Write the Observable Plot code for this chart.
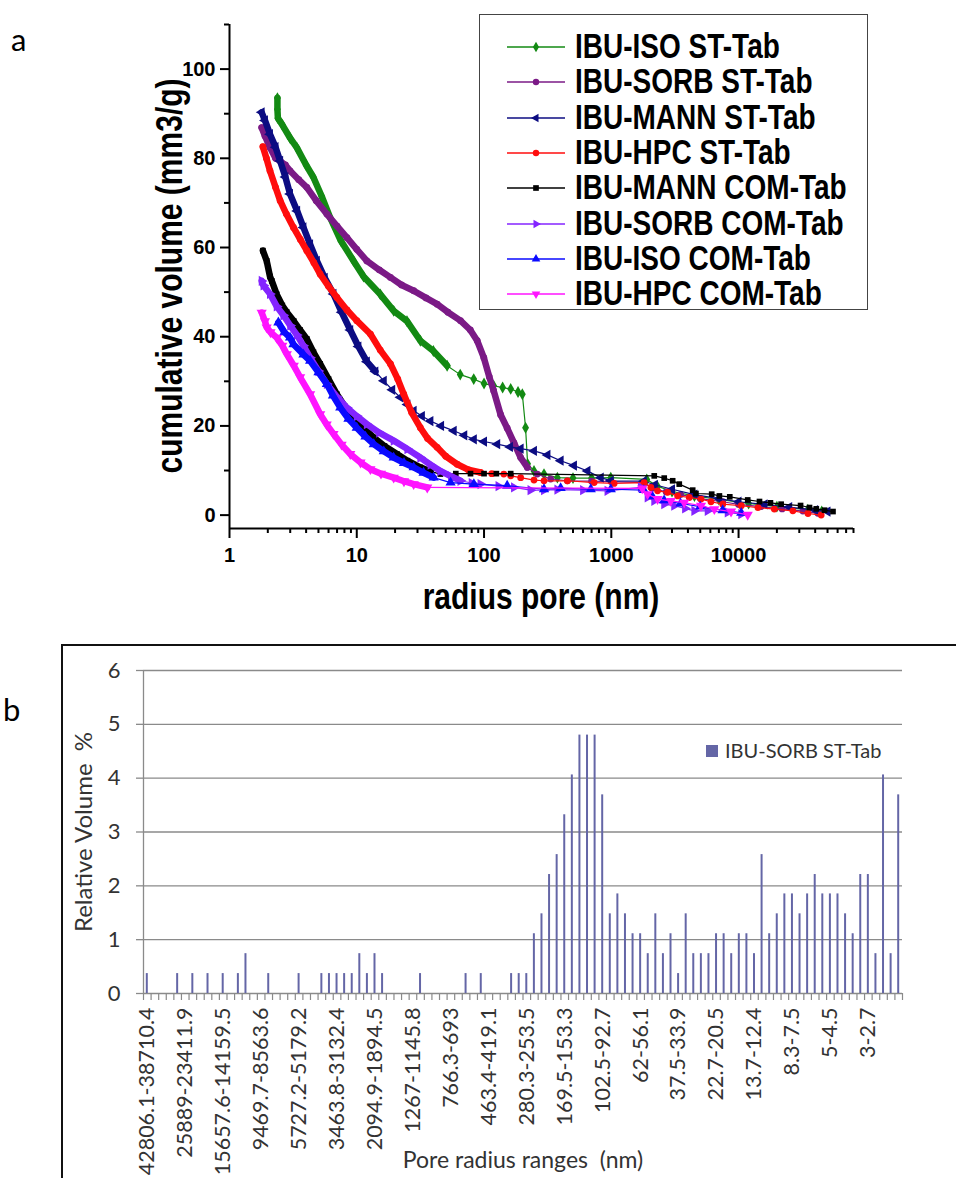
<!DOCTYPE html>
<html>
<head>
<meta charset="utf-8">
<script src="https://cdn.jsdelivr.net/npm/d3@7"></script>
<script src="https://cdn.jsdelivr.net/npm/@observablehq/plot@0.6"></script>
<style>
  body { margin: 0; background: #fff; }
  #wrap { position: relative; width: 956px; height: 1178px; overflow: hidden; background: #fff; }
  #wrap > * { position: absolute; }
  .tall { font-family: "Liberation Sans", Arial, sans-serif; font-weight: bold; white-space: nowrap; color: #000; }
  .calib { font-family: Lato, "Open Sans", sans-serif; }
</style>
</head>
<body>
<div id="wrap"></div>
<script>
// ---------------- (a) cumulative intrusion curves : [radius nm, cumulative volume mm3/g]
const seriesNames = ["IBU-ISO ST-Tab", "IBU-SORB ST-Tab", "IBU-MANN ST-Tab", "IBU-HPC ST-Tab",
                     "IBU-MANN COM-Tab", "IBU-SORB COM-Tab", "IBU-ISO COM-Tab", "IBU-HPC COM-Tab"];
const seriesColors = ["#138a13", "#7b1a86", "#0c0c82", "#ff0d0d", "#000000", "#8424ff", "#0a0aff", "#ff14ff"];

const isoST = [[2.38,93.5],[2.38,91],[2.4,89],[2.6,87.5],[3.0,84.5],[3.38,82.4],[4.0,78.5],[4.57,75.7],[5.3,71.5],
  [6.18,66.7],[7.5,61.5],[9.44,57],[11.3,53.5],[15.3,49.5],[19.5,45.8],[24.8,43.5],[31.6,39.1],[40,36.8],[51.3,33.5],
  [65,31.5],[83,30.5],[100,29.5],[119,29],[140,28.6],[162,28.3],[185,27.6],[200,27.1],[212,19.6],[220,11.5],[247,9.9],
  [296,9.2],[377,8.4],[500,8.3],[700,8.3],[991,8.4],[1900,8.0],[2300,6.5],[3000,5.3],[4500,4.3],[7000,3.5],[12000,2.6],
  [20000,1.9],[35000,1.2],[45000,0.8]];
const sorbST = [[1.79,86.9],[1.9,85],[2.08,82.4],[2.3,80],[2.5,79.4],[2.75,78.5],[2.99,77.2],[3.5,75.2],[4.05,73.5],
  [4.8,70.5],[5.82,67.5],[7,64.8],[8.37,62.2],[10,59.6],[12,57],[15,55],[18.4,53.3],[22.5,51.6],[28,50.3],[35,48.7],
  [42.8,47.3],[52,45.5],[65.3,43.6],[78,41.5],[88.4,39.1],[99.6,35.3],[110,31],[119,27.9],[135,22.5],[152,19.5],
  [172,16.2],[194,12.9],[219,10.7],[262,9.2],[334,8.1],[452,7.7],[700,7.6],[1000,7.5],[1800,7.3],[2100,6.0],[2700,5.2],
  [3500,4.6],[5000,3.7],[7500,3.0],[10000,2.4],[15000,1.9],[22000,1.4],[32000,0.9],[42000,0.4]];
const mannST = [[1.79,90.3],[1.9,88.5],[2.08,85.4],[2.3,82.5],[2.5,79.4],[2.75,75.8],[2.99,72],[3.4,68.2],[3.81,64.5],
  [4.3,60.7],[4.86,57],[5.6,53.2],[6.56,49.6],[7.6,45.5],[8.89,41.5],[10.3,37.8],[12,34.4],[14,32.2],[16.3,30.1],
  [19,28.1],[22,26.4],[25,24.8],[28,23.4],[32.5,22.2],[37.9,21.1],[46,20],[57.8,18.9],[70,17.9],[83.2,17.0],[100,16.5],
  [127,15.9],[160,15.3],[194,14.9],[247,14.4],[315,13.5],[400,12.2],[509,11.1],[650,9.9],[827,8.4],[991,7.7],
  [1800,7.6],[2200,6.8],[3000,5.8],[4500,4.6],[7000,3.7],[10000,3.0],[16000,2.4],[25000,1.8],[40000,1.1],[50000,0.8]];
const hpcST = [[1.83,82.6],[1.95,80],[2.08,77.2],[2.3,73.5],[2.5,70.5],[2.8,67.5],[3.18,64.5],[3.6,61.8],[4.05,59.3],
  [4.6,56.6],[5.16,54],[6,51.3],[6.98,48.8],[8.37,46],[10,43.6],[12.8,40.6],[15.3,37],[18.4,33.9],[21,30.5],[23.4,27.1],
  [27,23],[31.6,19.6],[36,17.2],[42.8,15.2],[50,13.2],[61.5,11.4],[75,10.2],[93.8,9.55],[115,9.3],[143,9.2],[162,8.8],
  [194,8.4],[247,7.85],[296,7.7],[452,7.7],[733,7.3],[1052,7.1],[1811,7.3],[2047,6.2],[2310,5.45],[2770,5.1],[3320,4.3],
  [4100,3.95],[5070,3.6],[6070,3.0],[7510,2.45],[10500,2.1],[14200,1.7],[19100,1.35],[26700,0.96],[35100,0.36],[44600,0]];
const mannCOM = [[1.83,59.3],[1.96,57],[2.08,53.5],[2.15,52.5],[2.35,49.5],[2.6,47],[2.82,45.5],[3.2,43.5],[3.59,41.5],
  [4.05,39.5],[4.57,36.5],[5.16,33.9],[6,30.5],[6.98,27.1],[8,24.5],[9.44,21.9],[11.3,19.5],[13.6,17.4],[16.5,15.5],
  [20.7,13.7],[25,12.2],[31.6,10.7],[38,9.8],[45.4,9.2],[60,9.3],[78.3,9.3],[100,9.3],[125,9.3],[162,9.3],[2175,8.8],
  [2605,8.3],[3035,7.7],[3420,6.95],[4360,5.6],[4625,4.85],[6150,4.7],[7070,4.3],[8530,4.1],[11800,3.4],[14600,3.05],
  [17800,2.75],[21600,2.45],[30700,2.15],[36100,1.7],[40800,1.4],[47400,1.1],[55200,0.8]];
const sorbCOM = [[1.79,52.5],[1.85,51.5],[2.08,49.6],[2.35,46.8],[2.65,44.8],[3.0,42.5],[3.38,40.4],[3.8,38],[4.3,35.3],
  [5,32.3],[5.82,29.4],[7,26.5],[8.37,24.1],[10,22.2],[12,20.4],[15,18.5],[19.5,16.7],[25,14.8],[31.6,12.9],[38,11.3],
  [45.4,9.9],[55,8.7],[65.3,7.7],[80,7.2],[93.8,6.95],[130,6.5],[172,6.2],[232,5.6],[296,5.6],[377,5.7],[600,5.6],
  [934,5.45],[1708,6.2],[1930,3.95],[2175,3.2],[2605,2.45],[3120,2.1],[3800,1.5],[4490,0.96],[5720,0.96],[8220,0.6],[10500,0.2]];
const isoCOM = [[2.42,43.2],[2.7,41],[2.99,39.8],[3.18,38.3],[3.81,36],[4.3,34.6],[5,32],[5.82,29.4],[6.5,26.8],
  [7.42,24.1],[8.6,21.6],[10,19.6],[11.7,17.6],[13.6,15.9],[16.3,14.3],[19.5,12.9],[23.5,11.7],[28,10.7],[33.5,9.5],
  [40.2,8.4],[54.6,7.3],[83.2,6.95],[152,6.6],[296,5.8],[400,6.05],[690,5.8],[991,5.8],[1800,5.6],[2100,4.2],[2600,3.3],
  [3500,2.6],[5000,1.9],[7500,1.1],[10500,0.5]];
const hpcCOM = [[1.79,45.4],[1.9,43.5],[1.96,42.1],[2.1,41],[2.35,39.8],[2.6,38],[2.82,36.1],[3.2,33.5],[3.59,30.9],
  [4.3,27.1],[5.16,22.6],[5.8,20.3],[6.56,18.2],[7.6,15.8],[8.89,13.7],[10.7,11.8],[12.8,10.3],[15.5,9.3],[19.5,8.4],
  [23.5,7.6],[28,6.95],[35.8,6.2],[1750,6.0],[1930,4.7],[2310,3.6],[2930,3.2],[3740,2.8],[5070,2.1],[6450,1.35],
  [8730,0.8],[11800,0.07]];
const seriesData = [isoST, sorbST, mannST, hpcST, mannCOM, sorbCOM, isoCOM, hpcCOM];
const yTicksA = [0, 20, 40, 60, 80, 100];
const xTicksA = [1, 10, 100, 1000, 10000];
const xTitleA = "radius pore (nm)";
const yTitleA = "cumulative volume (mm3/g)";

// styling only: radius up to which the measured points are so dense they merge into a thick line
const denseUntil = [60, 250, 14, 100, 45, 70, 45, 36];

// ---------------- (b) relative volume per pore-radius class (100 classes, every 5th labelled)
const rangeLabels = ["42806.1-38710.4", "25889-23411.9", "15657.6-14159.5", "9469.7-8563.6", "5727.2-5179.2",
  "3463.8-3132.4", "2094.9-1894.5", "1267-1145.8", "766.3-693", "463.4-419.1", "280.3-253.5", "169.5-153.3",
  "102.5-92.7", "62-56.1", "37.5-33.9", "22.7-20.5", "13.7-12.4", "8.3-7.5", "5-4.5", "3-2.7"];
const relVolume = [0.37,0,0,0,0.37,0,0.37,0,0.37,0,
  0.37,0,0.37,0.74,0,0,0.37,0,0,0,
  0.37,0,0,0.37,0.37,0.37,0.37,0.37,0.74,0.37,
  0.74,0.37,0,0,0,0,0.37,0,0,0,
  0,0,0.37,0,0.37,0,0,0,0.37,0.37,
  0.37,1.11,1.48,2.21,2.58,3.32,4.06,4.80,4.80,4.80,
  3.69,1.48,1.85,1.48,1.11,1.11,0.74,1.48,0.74,1.11,
  0.37,1.48,0.74,0.74,0.74,1.11,1.11,0.74,1.11,1.11,
  0.74,2.58,1.11,1.48,1.85,1.85,1.48,1.85,2.21,1.85,
  1.85,1.85,1.48,1.11,2.21,2.21,0.74,4.06,0.74,3.69];
const yTicksB = [0, 1, 2, 3, 4, 5, 6];
const barSeriesName = "IBU-SORB ST-Tab";
const barColor = "#6466a6";

// ---------------- symbols
function triangle(angle) {
  return {
    draw(ctx, size) {
      const y = -Math.sqrt(size / (Math.sqrt(3) * 3));
      const pts = [[0, 2 * y], [-Math.sqrt(3) * y, -y], [Math.sqrt(3) * y, -y]];
      const a = angle * Math.PI / 180, c = Math.cos(a), s = Math.sin(a);
      pts.forEach(([px, py], i) => {
        const xx = px * c - py * s, yy = px * s + py * c;
        i ? ctx.lineTo(xx, yy) : ctx.moveTo(xx, yy);
      });
      ctx.closePath();
    }
  };
}
const seriesSymbols = [d3.symbolDiamond, d3.symbolCircle, triangle(-90), d3.symbolCircle,
                       d3.symbolSquare, triangle(90), triangle(0), triangle(180)];
const symbolR = [3.6, 3.4, 3.8, 3.4, 3.2, 3.8, 3.8, 3.8];

const wrap = document.getElementById("wrap");
function addDiv(cls, text, style) {
  const d = document.createElement("div");
  if (cls) d.className = cls;
  if (text != null) d.textContent = text;
  Object.assign(d.style, style);
  wrap.appendChild(d);
  return d;
}

// ---------------- chart (a)
const marksA = [];
const minorY = [10, 30, 50, 70, 90, 110];
const minorX = [];
for (let e = 0; e < 5; e++) for (let m = 2; m <= 9; m++) { const v = m * 10 ** e; if (v <= 80000) minorX.push(v); }

marksA.push(Plot.axisY({ticks: yTicksA, tickSize: 9, tickPadding: 5, strokeWidth: 2, fontSize: 20, fontWeight: "bold",
  tickFormat: d3.format("d"), label: null}));
marksA.push(Plot.axisY({ticks: minorY, tickSize: 5, strokeWidth: 2, tickFormat: () => "", label: null}));
marksA.push(Plot.axisX({ticks: xTicksA, tickSize: 10, tickPadding: 9, strokeWidth: 2, fontSize: 20, fontWeight: "bold",
  tickFormat: d3.format("d"), label: null}));
marksA.push(Plot.axisX({ticks: minorX, tickSize: 5, strokeWidth: 2, tickFormat: () => "", label: null}));
marksA.push(Plot.ruleX([1], {stroke: "#000", strokeWidth: 2}));
marksA.push(Plot.ruleY([-3], {stroke: "#000", strokeWidth: 2}));

seriesData.forEach((data, k) => {
  const rows = data.map(([r, v]) => ({r, v}));
  marksA.push(Plot.line(rows.filter(d => d.r <= denseUntil[k]),
    {x: "r", y: "v", stroke: seriesColors[k], strokeWidth: 6.5, strokeLinecap: "round", strokeLinejoin: "round"}));
  marksA.push(Plot.line(rows, {x: "r", y: "v", stroke: seriesColors[k], strokeWidth: 1.2}));
  marksA.push(Plot.dot(rows, {x: "r", y: "v", symbol: seriesSymbols[k], r: symbolR[k], fill: seriesColors[k], stroke: "none"}));
});

const chartA = Plot.plot({
  width: 956, height: 620,
  marginLeft: 229, marginRight: 103, marginTop: 24, marginBottom: 92,
  x: {type: "log", domain: [1, 80000], label: null},
  y: {domain: [-3, 110], label: null},
  style: {background: "transparent", fontFamily: "Liberation Sans, Arial, sans-serif", color: "#000"},
  marks: marksA
});
chartA.style.left = "0px"; chartA.style.top = "0px";
wrap.appendChild(chartA);

// axis titles (a): bold sans, vertically stretched like the original
addDiv("tall", xTitleA, {left: "541px", top: "597px", fontSize: "30px", lineHeight: "34px",
  transform: "translate(-50%,-50%) scale(1,1.22)"});
addDiv("tall", yTitleA, {left: "170px", top: "276px", fontSize: "30px", lineHeight: "34px",
  transform: "translate(-50%,-50%) rotate(-90deg) scale(1,1.22)"});

// legend (a)
addDiv(null, null, {left: "479px", top: "14px", width: "389px", height: "296px", border: "1.5px solid #444", boxSizing: "border-box"});
seriesNames.forEach((name, k) => {
  const cy = 47 + 35.3 * k;
  const sw = d3.create("svg").attr("width", 60).attr("height", 20)
    .style("position", "absolute").style("left", "505px").style("top", (cy - 10) + "px");
  sw.append("line").attr("x1", 2).attr("x2", 60).attr("y1", 10).attr("y2", 10)
    .attr("stroke", seriesColors[k]).attr("stroke-width", 1.5);
  sw.append("path").attr("transform", "translate(31,10)")
    .attr("d", d3.symbol(seriesSymbols[k], Math.PI * 3.2 * 3.2)()).attr("fill", seriesColors[k]);
  wrap.appendChild(sw.node());
  addDiv("tall", name, {left: "575px", top: (cy - 17) + "px", fontSize: "28px", lineHeight: "34px",
    transform: "scale(1,1.22)", transformOrigin: "left center"});
});

addDiv("calib", "a", {left: "11px", top: "20px", fontSize: "31px", color: "#000"});

// ---------------- chart (b)
addDiv(null, null, {left: "61px", top: "644px", width: "1000px", height: "700px", border: "2px solid #111"});

const bars = relVolume.map((v, i) => ({i, v}));
const grey = "#8a8a8a";
const chartB = Plot.plot({
  width: 956, height: 558,
  marginLeft: 143, marginRight: 54, marginTop: 50, marginBottom: 185,
  x: {domain: [0, 100], label: null},
  y: {domain: [0, 6], label: null},
  style: {background: "transparent", fontFamily: "Lato, 'Open Sans', sans-serif", color: "#333"},
  marks: [
    Plot.gridY(yTicksB.slice(1), {stroke: grey, strokeOpacity: 1, strokeWidth: 1.3}),
    Plot.axisY({ticks: yTicksB, tickSize: 7, tickPadding: 16, fontSize: 22, stroke: grey, strokeWidth: 1.3,
      tickFormat: d3.format("d"), label: null}),
    Plot.ruleX([0], {stroke: grey, strokeWidth: 1.3}),
    Plot.ruleY([0], {stroke: grey, strokeWidth: 1.3}),
    Plot.axisX({ticks: d3.range(0, 101), tickSize: 7, stroke: grey, strokeWidth: 1.2, tickFormat: () => "", label: null}),
    Plot.axisX({ticks: rangeLabels.map((_, j) => j * 5 + 0.5), tickSize: 0, tickPadding: 14, tickRotate: -90,
      tickFormat: d => rangeLabels[Math.round((d - 0.5) / 5)], fontSize: 21.5, label: null}),
    Plot.rect(bars, {x1: "i", x2: d => d.i + 1, y1: 0, y2: "v", insetLeft: 2.8, insetRight: 2.8, fill: barColor}),
    Plot.text(["Pore radius ranges\u00a0 (nm)"], {text: d => d, frameAnchor: "bottom", dy: 174, fontSize: 23}),
    Plot.text(["Relative Volume\u00a0 %"], {text: d => d, frameAnchor: "left", textAnchor: "middle", rotate: -90,
      dx: -59, fontSize: 24})
  ]
});
chartB.style.left = "0px"; chartB.style.top = "620px";
wrap.appendChild(chartB);

// legend (b)
addDiv(null, null, {left: "706px", top: "745px", width: "12px", height: "12px", background: barColor});
addDiv("calib", barSeriesName, {left: "725px", top: "736px", fontSize: "20px", lineHeight: "28px", color: "#333", whiteSpace: "nowrap"});

addDiv("calib", "b", {left: "3px", top: "690px", fontSize: "31px", color: "#000"});
</script>
</body>
</html>
